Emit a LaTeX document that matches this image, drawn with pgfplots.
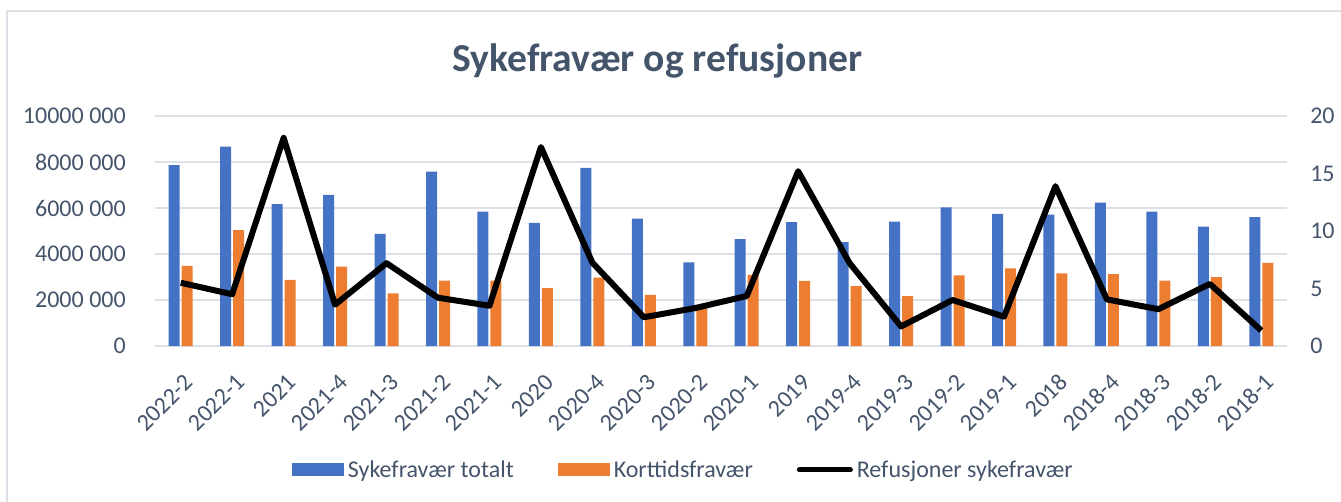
\documentclass[border=0pt]{standalone}
\usepackage{pgfplots}
\pgfplotsset{compat=1.18}
\usepackage{fontspec}
\setmainfont{Carlito}
\definecolor{cblue}{RGB}{68,114,196}
\definecolor{corange}{RGB}{237,125,49}
\definecolor{ctext}{RGB}{68,84,106}
\definecolor{cgrid}{RGB}{220,224,231}
\newcommand{\tfont}{\fontsize{18}{21}\selectfont}
\newcommand{\xl}[1]{\rule{0pt}{27.3pt}#1\hspace*{12.75pt}}

\begin{document}
\begin{tikzpicture}[x=0.75pt,y=0.75pt]
\path[use as bounding box] (0,0) rectangle (1341,501);
\draw[cgrid, line width=1.5pt] (6.5,-10) -- (6.5,490) -- (1360,490);
\node[anchor=base, text=ctext, font=\bfseries\fontsize{29.7}{34}\selectfont] at (657.5,429.3) {Sykefravær og refusjoner};

\begin{axis}[
  at={(116.25pt,116.25pt)}, anchor=south west, scale only axis,
  width=849pt, height=172.5pt,
  xmin=-0.5, xmax=21.5,
  ymin=0, ymax=10000000,
  clip=false,
  axis line style={draw=none},
  major tick length=0pt,
  ymajorgrids, grid style={cgrid, line width=1.5pt},
  xtick={0,...,21},
  xticklabels={\xl{2022-2},\xl{2022-1},\xl{2021},\xl{2021-4},\xl{2021-3},\xl{2021-2},\xl{2021-1},\xl{2020},\xl{2020-4},\xl{2020-3},\xl{2020-2},\xl{2020-1},\xl{2019},\xl{2019-4},\xl{2019-3},\xl{2019-2},\xl{2019-1},\xl{2018},\xl{2018-4},\xl{2018-3},\xl{2018-2},\xl{2018-1}},
  ytick={0,2000000,4000000,6000000,8000000,10000000},
  yticklabels={0,2000 000,4000 000,6000 000,8000 000,10000 000},
  scaled y ticks=false,
  ticklabel style={font=\tfont, text=ctext},
  yticklabel style={inner sep=0pt, xshift=-21.75pt, anchor=east},
  xticklabel style={inner sep=0pt, rotate=45, anchor=north east},
  ybar=1.5pt, bar width=8.25pt,
  legend style={at={(0.467,-0.539)}, anchor=center, draw=none, fill=none,
    legend columns=3, font=\tfont, text=ctext,
    nodes={inner sep=2pt},
    /tikz/every odd column/.append style={column sep=1pt},
    /tikz/every even column/.append style={column sep=31pt}},
]
\addplot[fill=cblue, draw=none,
  legend image code/.code={\fill[cblue] (0pt,-4.875pt) rectangle (39pt,4.875pt);}]
  coordinates {(0,7860000)(1,8670000)(2,6170000)(3,6570000)(4,4870000)(5,7580000)(6,5840000)(7,5350000)(8,7740000)(9,5540000)(10,3640000)(11,4650000)(12,5390000)(13,4520000)(14,5410000)(15,6030000)(16,5750000)(17,5710000)(18,6230000)(19,5840000)(20,5190000)(21,5600000)};
\addlegendentry{Sykefravær totalt}
\addplot[fill=corange, draw=none,
  legend image code/.code={\fill[corange] (0pt,-4.875pt) rectangle (39pt,4.875pt);}]
  coordinates {(0,3480000)(1,5040000)(2,2870000)(3,3450000)(4,2290000)(5,2840000)(6,2840000)(7,2520000)(8,2970000)(9,2220000)(10,1750000)(11,3090000)(12,2830000)(13,2600000)(14,2170000)(15,3070000)(16,3380000)(17,3160000)(18,3120000)(19,2840000)(20,3000000)(21,3610000)};
\addlegendentry{Korttidsfravær}
\addlegendimage{legend image code/.code={\draw[black, line width=3.75pt, line cap=round] (1.5pt,0pt) -- (39.75pt,0pt);}}
\addlegendentry{Refusjoner sykefravær}
\end{axis}

\begin{axis}[
  at={(116.25pt,116.25pt)}, anchor=south west, scale only axis,
  width=849pt, height=172.5pt,
  xmin=-0.5, xmax=21.5,
  ymin=0, ymax=20,
  clip=false,
  axis y line*=right, axis x line=none,
  axis line style={draw=none},
  major tick length=0pt,
  ytick={0,5,10,15,20},
  yticklabels={0,5,10,15,20},
  ticklabel style={font=\tfont, text=ctext},
  yticklabel style={inner sep=0pt, xshift=17.25pt, anchor=west},
]
\addplot[black, line width=4.5pt, line join=round, mark=none]
  coordinates {(0,5.5)(1,4.5)(2,18.1)(3,3.6)(4,7.2)(5,4.2)(6,3.5)(7,17.3)(8,7.25)(9,2.5)(10,3.3)(11,4.35)(12,15.2)(13,7.2)(14,1.7)(15,4.0)(16,2.55)(17,13.9)(18,4.05)(19,3.2)(20,5.4)(21,1.35)};
\end{axis}
\end{tikzpicture}
\end{document}
